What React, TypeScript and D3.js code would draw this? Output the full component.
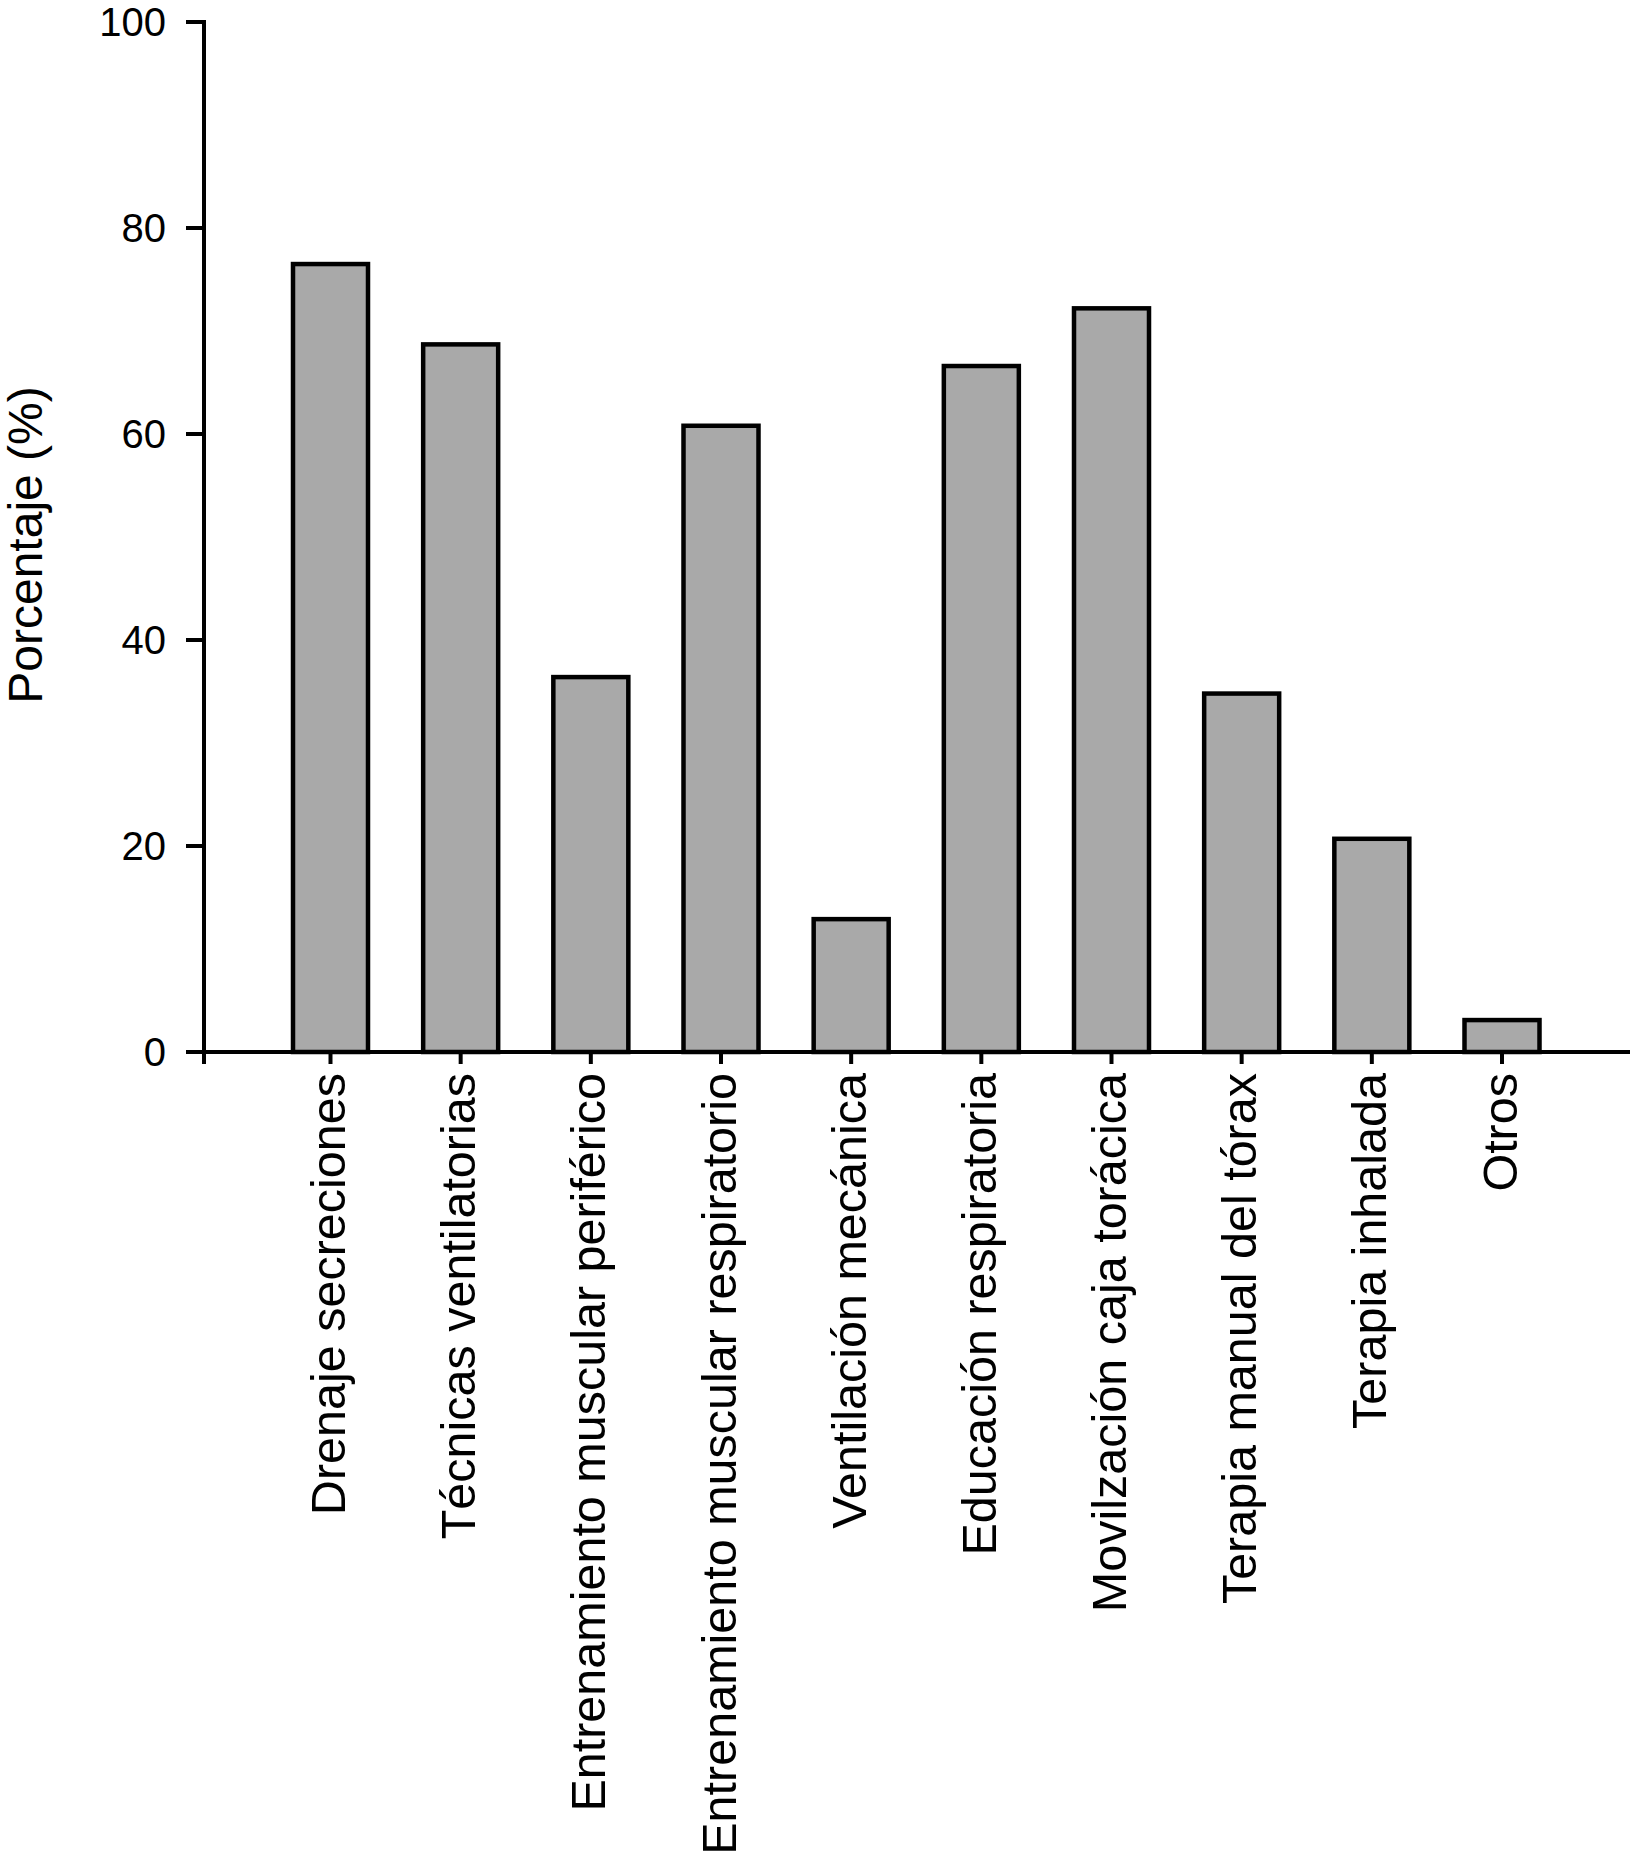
import React from "react";
import * as d3 from "d3";

const categories = [
  "Drenaje secreciones",
  "Técnicas ventilatorias",
  "Entrenamiento muscular periférico",
  "Entrenamiento muscular respiratorio",
  "Ventilación mecánica",
  "Educación respiratoria",
  "Movilzación caja torácica",
  "Terapia manual del tórax",
  "Terapia inhalada",
  "Otros",
];
const values = [76.5, 68.7, 36.4, 60.8, 12.9, 66.6, 72.2, 34.8, 20.7, 3.1];
const yTicks = [0, 20, 40, 60, 80, 100];
const yTitle = "Porcentaje (%)";

const W = 1630;
const H = 1858;
const FONT = "'Liberation Sans', Arial, Helvetica, sans-serif";

export default function App() {
  const axisX = 204;
  const y = d3.scaleLinear().domain([0, 100]).range([1052, 22]);
  const x = d3.scalePoint<string>().domain(categories).range([330.5, 1502]);
  const barW = 75;

  return (
    <svg
      width={W}
      height={H}
      style={{ position: "absolute", left: 0, top: 0, background: "#fff" }}
      fontFamily={FONT}
    >
      <rect x={0} y={0} width={W} height={H} fill="#fff" />
      {categories.map((c, i) => (
        <rect
          key={c}
          x={(x(c) as number) - barW / 2}
          y={y(values[i])}
          width={barW}
          height={y(0) - y(values[i])}
          fill="#a9a9a9"
          stroke="#000"
          strokeWidth={4.5}
        />
      ))}
      <line x1={axisX - 2} x2={W} y1={y(0)} y2={y(0)} stroke="#000" strokeWidth={4} />
      {categories.map((c) => (
        <line
          key={"t" + c}
          x1={x(c)}
          x2={x(c)}
          y1={y(0)}
          y2={y(0) + 12}
          stroke="#000"
          strokeWidth={4}
        />
      ))}
      <line x1={axisX} x2={axisX} y1={y(100) - 2} y2={y(0) + 12} stroke="#000" strokeWidth={4} />
      {yTicks.map((t) => (
        <g key={"y" + t}>
          <line x1={axisX - 18} x2={axisX} y1={y(t)} y2={y(t)} stroke="#000" strokeWidth={4} />
          <text
            x={axisX - 38}
            y={y(t)}
            dy="0.35em"
            textAnchor="end"
            fontSize={40}
            fill="#000"
          >
            {t}
          </text>
        </g>
      ))}
      {categories.map((c) => (
        <text
          key={"l" + c}
          transform={`translate(${x(c)},${y(0) + 21}) rotate(-90)`}
          dy="0.3em"
          textAnchor="end"
          fontSize={48.5}
          fill="#000"
        >
          {c}
        </text>
      ))}
      <text
        transform={`translate(42,545) rotate(-90)`}
        textAnchor="middle"
        fontSize={48}
        fill="#000"
      >
        {yTitle}
      </text>
    </svg>
  );
}
